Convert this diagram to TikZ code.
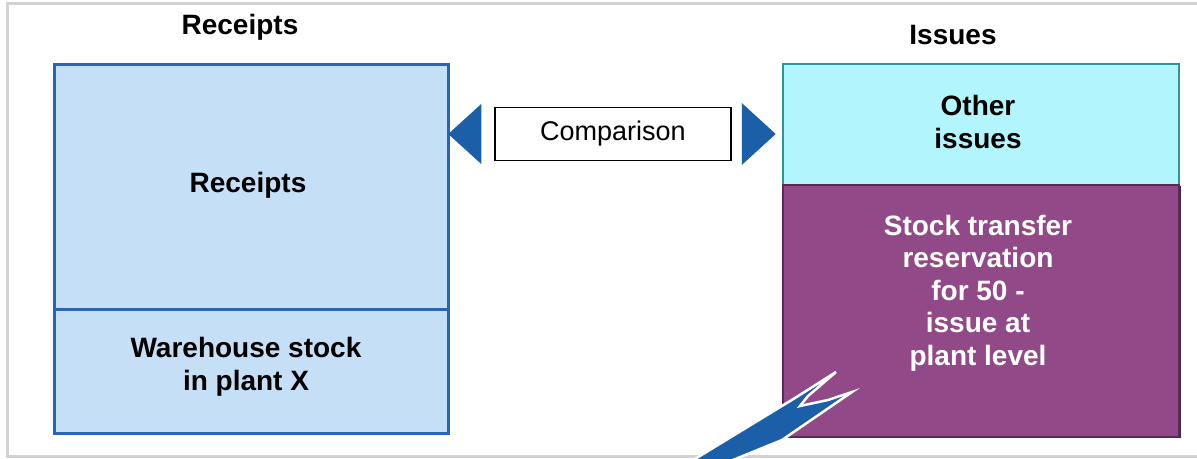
\documentclass[tikz,border=0pt]{standalone}
\usepackage{fontspec}
\setmainfont{Liberation Sans}
\usetikzlibrary{calc}
\definecolor{framegray}{HTML}{D2D2D2}
\definecolor{lblue}{HTML}{C5DFF6}
\definecolor{bblue}{HTML}{2A66B0}
\definecolor{sblue}{HTML}{1A4A88}
\definecolor{lcyan}{HTML}{B2F5FD}
\definecolor{tcyan}{HTML}{2E9498}
\definecolor{purp}{HTML}{914A87}
\definecolor{dpurp}{HTML}{5A2A55}
\definecolor{arrblue}{HTML}{1C5FA9}
\tikzset{
  bigfont/.style={font=\fontsize{28}{32.5}\selectfont},
  hdr/.style={bigfont, font=\fontsize{28}{32.5}\selectfont\bfseries},
  lbox/.style={draw=bblue, line width=2.5pt, fill=lblue, inner sep=0pt},
  cbox/.style={draw=tcyan, line width=1.5pt, fill=lcyan, inner sep=0pt},
  pbox/.style={draw=dpurp, line width=2pt, fill=purp, inner sep=0pt},
  btxt/.style={font=\fontsize{28}{32.5}\selectfont\bfseries, align=center},
}
\begin{document}
\begin{tikzpicture}[x=1pt,y=-1pt]
\useasboundingbox (0,0) rectangle (1197,458);
\fill[white] (0,0) rectangle (1197,458);
% outer frame
\draw[framegray, line width=3pt] (1200,3) -- (7,3) -- (7,456) -- (1200,456);

% headers
\node[btxt] (hrec) at (240,27) {Receipts};
\node[btxt] (hiss) at (953,35) {Issues};

% left column (shadow + boxes)
\fill[sblue] (55,65) rectangle (450,435);
\node[lbox, minimum width=394pt, minimum height=245pt, anchor=north west] (rec) at (53,63) {};
\node[lbox, minimum width=394pt, minimum height=124pt, anchor=north west] (wh) at (53,308) {};
\node[btxt] (rect) at (248,185) {Receipts};
\node[btxt] (wht) at (246,367) {Warehouse stock\\in plant X};

% right column
\fill[dpurp!80!black] (784,186) rectangle (1181,438);
\node[cbox, minimum width=396pt, minimum height=121pt, anchor=north west] (oth) at (782,63) {};
\node[pbox, minimum width=396pt, minimum height=252pt, anchor=north west] (stk) at (782,184) {};
\node[btxt] (otht) at (978,122) {Other\\issues};
\node[btxt, text=white] (stkt) at (978,293) {Stock transfer\\reservation\\for 50 -\\issue at\\plant level};

% comparison
\node[draw=black, line width=1.5pt, fill=white, minimum width=236pt, minimum height=53pt, inner sep=0pt, font=\fontsize{27}{32}\selectfont] (cmp) at (613,134) {Comparison};
\fill[arrblue] ($(cmp.west)+(-46,0)$) -- ($(cmp.west)+(-13,-30)$) -- ($(cmp.west)+(-13,30)$) -- cycle;
\fill[arrblue] ($(cmp.east)+(44,0)$) -- ($(cmp.east)+(10,-31)$) -- ($(cmp.east)+(10,31)$) -- cycle;

% lightning bolt
\fill[arrblue, draw=white, line width=2.5pt, line join=miter]
  (690,462) -- (795,398) -- (836,372) -- (808,396) -- (800,406) -- (828,400) -- (852,392) -- (782,440) -- (728,462) -- cycle;
\end{tikzpicture}
\end{document}
